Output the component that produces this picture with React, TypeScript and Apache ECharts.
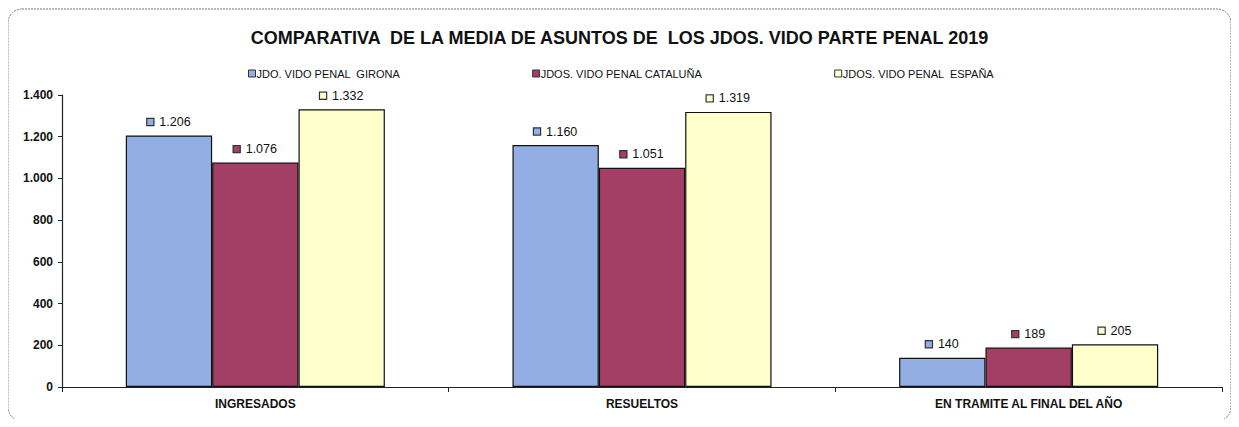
import React, { useEffect, useRef } from "react";
import * as echarts from "echarts";

const categories = ["INGRESADOS", "RESUELTOS", "EN TRAMITE AL FINAL DEL AÑO"];
const seriesNames = [
  "JDO. VIDO PENAL  GIRONA",
  "JDOS. VIDO PENAL CATALUÑA",
  "JDOS. VIDO PENAL  ESPAÑA",
];
const girona = [1206, 1160, 140];
const cataluna = [1076, 1051, 189];
const espana = [1332, 1319, 205];
const yTicks = [0, 200, 400, 600, 800, 1000, 1200, 1400];
const colors = ["#93aee3", "#a33e64", "#ffffcc"];

const fmt = (v: number) => v.toString().replace(/\B(?=(\d{3})+(?!\d))/g, ".");

export default function App() {
  const ref = useRef<HTMLDivElement>(null);
  useEffect(() => {
    if (!ref.current) return;
    const chart = echarts.init(ref.current, undefined, { renderer: "svg" });
    const font = "'Liberation Sans', Arial, sans-serif";
    const mk = (name: string, data: number[], color: string) => ({
      name,
      type: "bar",
      data,
      barGap: "0%",
      barCategoryGap: "33%",
      itemStyle: { color, borderColor: "#111", borderWidth: 1.2 },
      label: {
        show: true,
        position: "top",
        distance: 7,
        formatter: (p: any) => `{b|}{v|${fmt(p.value)}}`,
        color: "#111",
        fontFamily: font,
        fontSize: 12.5,
        rich: {
          b: {
            width: 6,
            height: 6,
            backgroundColor: color,
            borderColor: "#333",
            borderWidth: 1.2,
            verticalAlign: "middle",
            padding: [0, 0, 0, 0],
          },
          v: {
            fontFamily: font,
            fontSize: 12.5,
            color: "#111",
            padding: [0, 0, 0, 6],
            verticalAlign: "middle",
          },
        },
      },
    });
    chart.setOption({
      animation: false,
      backgroundColor: "#fff",
      title: {
        text: "COMPARATIVA  DE LA MEDIA DE ASUNTOS DE  LOS JDOS. VIDO PARTE PENAL 2019",
        left: "center",
        top: 24,
        textStyle: { fontFamily: font, fontSize: 18, fontWeight: "bold", color: "#111" },
      },
      legend: {
        top: 63,
        left: 243,
        itemGap: 132,
        itemWidth: 7,
        itemHeight: 7,
        icon: "rect",
        textStyle: { fontFamily: font, fontSize: 11, color: "#111", padding: [0, 0, 0, -4] },
        data: seriesNames.map((n, i) => ({
          name: n,
          itemStyle: { color: colors[i], borderColor: "#333", borderWidth: 1 },
        })),
      },
      grid: { left: 62, right: 17, top: 95, bottom: 40 },
      xAxis: {
        type: "category",
        data: categories,
        axisLine: { lineStyle: { color: "#222", width: 1.2 } },
        axisTick: { show: true, inside: false, length: 5, lineStyle: { color: "#222" } },
        axisLabel: { fontFamily: font, fontSize: 12, fontWeight: "bold", color: "#111", margin: 11 },
      },
      yAxis: {
        type: "value",
        min: 0,
        max: 1400,
        interval: 200,
        axisLine: { show: true, lineStyle: { color: "#222", width: 1.2 } },
        axisTick: { show: true, length: 4, lineStyle: { color: "#222" } },
        splitLine: { show: false },
        axisLabel: {
          fontFamily: font,
          fontSize: 12,
          fontWeight: "bold",
          color: "#111",
          margin: 9,
          formatter: (v: number) => (yTicks.includes(v) ? fmt(v) : ""),
        },
      },
      graphic: [
        {
          type: "rect",
          shape: { x: 8, y: 9, width: 1223, height: 412, r: 14 },
          style: { fill: "none", stroke: "#777", lineWidth: 1, lineDash: [2, 1] },
          silent: true,
        },
      ],
      series: [
        mk(seriesNames[0], girona, colors[0]),
        mk(seriesNames[1], cataluna, colors[1]),
        mk(seriesNames[2], espana, colors[2]),
      ],
    });
    return () => chart.dispose();
  }, []);
  return <div ref={ref} style={{ width: 1239, height: 427, margin: -8 }} />;
}
